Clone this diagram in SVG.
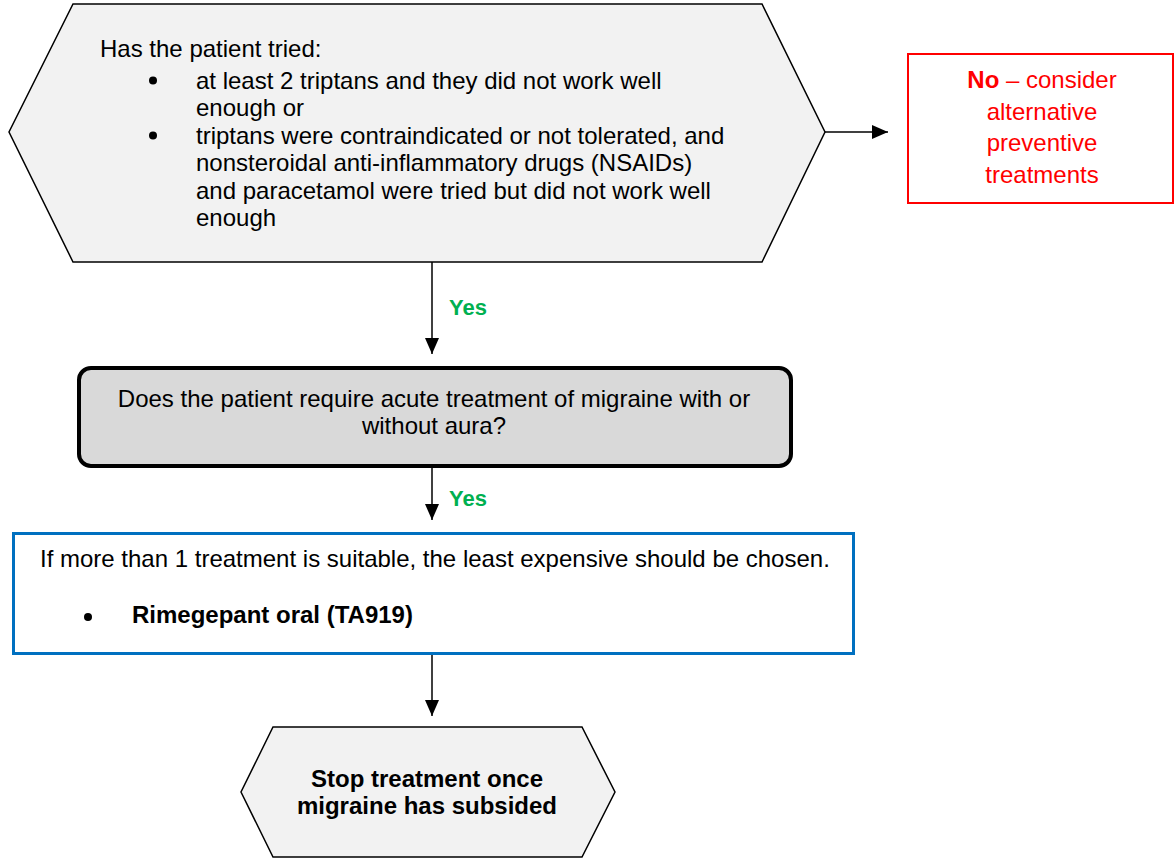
<svg xmlns="http://www.w3.org/2000/svg" width="1176" height="859" viewBox="0 0 1176 859">
<defs>
<style>
text{font-family:"Liberation Sans",Arial,sans-serif;font-size:24px;fill:#000}
.b{font-weight:bold}
.red{fill:#ff0000}
.yes{fill:#00b050;font-weight:bold;font-size:22px}
.conn{stroke:#000;stroke-width:1.5;fill:none}
.hex{fill:#f2f2f2;stroke:#000;stroke-width:1.5}
</style>
<marker id="arr" markerUnits="userSpaceOnUse" markerWidth="16" markerHeight="14" viewBox="0 0 16 14" refX="16" refY="7" orient="auto">
<path d="M0,0 L16,7 L0,14 Z" fill="#000"/>
</marker>
</defs>
<rect width="1176" height="859" fill="#fff"/>

<g id="connectors">
<line class="conn" x1="825" y1="132" x2="888" y2="132" marker-end="url(#arr)"/>
<line class="conn" x1="432" y1="262" x2="432" y2="354" marker-end="url(#arr)"/>
<line class="conn" x1="432" y1="467" x2="432" y2="520" marker-end="url(#arr)"/>
<line class="conn" x1="432" y1="655" x2="432" y2="716" marker-end="url(#arr)"/>
<text class="yes" x="449" y="315">Yes</text>
<text class="yes" x="449" y="506">Yes</text>
</g>

<g id="q1">
<polygon class="hex" points="73,4 762,4 825,132 762,262 73,262 9,132"/>
<text x="100" y="57">Has the patient tried:</text>
<circle cx="153" cy="80.5" r="4"/>
<text x="196" y="88.5">at least 2 triptans and they did not work well</text>
<text x="196" y="116">enough or</text>
<circle cx="153" cy="135.5" r="4"/>
<text x="196" y="143.5">triptans were contraindicated or not tolerated, and</text>
<text x="196" y="171">nonsteroidal anti-inflammatory drugs (NSAIDs)</text>
<text x="196" y="198.5">and paracetamol were tried but did not work well</text>
<text x="196" y="226">enough</text>
</g>

<g id="no">
<rect x="908" y="54" width="265" height="149" fill="#fff" stroke="#ff0000" stroke-width="2"/>
<text class="red" x="1042" y="88" text-anchor="middle"><tspan class="b">No</tspan> – consider</text>
<text class="red" x="1042" y="120" text-anchor="middle">alternative</text>
<text class="red" x="1042" y="151" text-anchor="middle">preventive</text>
<text class="red" x="1042" y="183" text-anchor="middle">treatments</text>
</g>

<g id="q2">
<rect x="79" y="368" width="712" height="98" rx="12" ry="12" fill="#d9d9d9" stroke="#000" stroke-width="4"/>
<text x="434" y="407" text-anchor="middle">Does the patient require acute treatment of migraine with or</text>
<text x="434" y="434" text-anchor="middle">without aura?</text>
</g>

<g id="treat">
<rect x="13.5" y="533.5" width="840" height="120" fill="#fff" stroke="#0070c0" stroke-width="3"/>
<text x="40" y="567">If more than 1 treatment is suitable, the least expensive should be chosen.</text>
<circle cx="88" cy="617" r="4"/>
<text class="b" x="132" y="623">Rimegepant oral (TA919)</text>
</g>

<g id="stop">
<polygon class="hex" points="273,727 582,727 615,792 582,857 273,857 241,792"/>
<text class="b" x="427" y="787" text-anchor="middle">Stop treatment once</text>
<text class="b" x="427" y="814" text-anchor="middle">migraine has subsided</text>
</g>
</svg>
